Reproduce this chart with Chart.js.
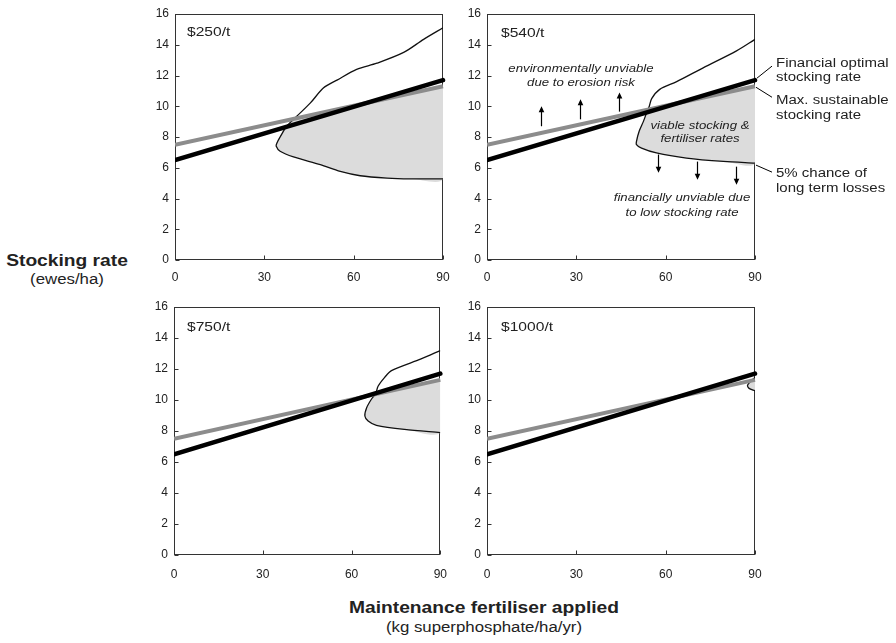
<!DOCTYPE html>
<html>
<head>
<meta charset="utf-8">
<script src="https://cdn.jsdelivr.net/npm/chart.js@4.4.1/dist/chart.umd.min.js"></script>
<style>
  body { margin: 0; background: #fff; }
  #page { position: relative; width: 896px; height: 643px; overflow: hidden; background: #fff;
          font-family: "Liberation Sans", Arial, sans-serif; color: #222; }
  canvas { position: absolute; }
  .txt { position: absolute; white-space: nowrap; line-height: 1; }
</style>
</head>
<body>
<div id="page">
  <canvas id="p250" width="320" height="290" style="left:140px; top:0px"></canvas>
  <canvas id="p540" width="444" height="290" style="left:452px; top:0px"></canvas>
  <canvas id="p750" width="320" height="292" style="left:139px; top:293px"></canvas>
  <canvas id="p1000" width="444" height="292" style="left:452px; top:293px"></canvas>
</div>
<script>
// Axis ticks
const xTickValues = [0, 30, 60, 90];
const yTickValues = [0, 2, 4, 6, 8, 10, 12, 14, 16];

// Straight lines (same in every panel): fertiliser 0 -> 90
const fertiliserRange = [0, 90];
const financialOptimal = [6.5, 11.7];
const maxSustainable = [7.5, 11.3];

// 5% chance of long term losses contours
const contour250X = [90, 83.5, 76.8, 67.8, 61, 54.4, 49.9, 45.4, 40.9, 37.5, 35.3, 34.2, 34, 35.3, 39.8, 48.8, 55.5, 62.2, 71.2, 79, 90];
const contour250Y = [15.1, 14.35, 13.5, 12.8, 12.4, 11.7, 11.2, 10.2, 9.35, 8.7, 8.0, 7.6, 7.4, 7.07, 6.7, 6.2, 5.76, 5.48, 5.33, 5.28, 5.28];

const contour540X = [90, 83.8, 72.6, 63.7, 58, 55.3, 54.5, 53.6, 52.5, 51.1, 50.2, 50.2, 51.9, 56.9, 67, 79.4, 90];
const contour540Y = [14.35, 13.6, 12.5, 11.6, 11.1, 10.5, 10.0, 9.57, 9.0, 8.37, 7.72, 7.5, 7.28, 6.96, 6.63, 6.41, 6.3];

const contour750X = [90, 83.5, 73.5, 71.2, 69, 68.1, 66.7, 65.1, 64.5, 65.6, 68.4, 77.9, 90];
const contour750Y = [13.19, 12.65, 11.9, 11.46, 10.9, 10.4, 10.05, 9.5, 8.97, 8.65, 8.37, 8.1, 7.9];

const contour1000X = [90, 88.5, 87.5, 88, 90];
const contour1000Y = [11.45, 11.2, 10.95, 10.75, 10.6];

Chart.defaults.font.family = "'Liberation Sans', Arial, sans-serif";
Chart.defaults.font.size = 12;
Chart.defaults.color = "#222";

// Function to turn two end values into line points
function linePoints(values) {
  return fertiliserRange.map((x, i) => ({ x: x, y: values[i] }));
}

function maxSustainableAt(x) {
  const t = (x - fertiliserRange[0]) / (fertiliserRange[1] - fertiliserRange[0]);
  return maxSustainable[0] + (maxSustainable[1] - maxSustainable[0]) * t;
}

// Function to build the shaded region: contour part below the max sustainable line
function shadePoints(cx, cy) {
  const pts = [];
  let prevBelow = false;
  for (let i = 0; i < cx.length; i++) {
    const below = cy[i] < maxSustainableAt(cx[i]);
    if (below && i > 0 && !prevBelow) {
      const dp = cy[i - 1] - maxSustainableAt(cx[i - 1]);
      const dq = cy[i] - maxSustainableAt(cx[i]);
      const t = dp / (dp - dq);
      pts.push({ x: cx[i - 1] + t * (cx[i] - cx[i - 1]), y: cy[i - 1] + t * (cy[i] - cy[i - 1]) });
    }
    if (below) pts.push({ x: cx[i], y: cy[i] });
    prevBelow = below;
  }
  pts.push({ x: fertiliserRange[1], y: maxSustainableAt(fertiliserRange[1]) });
  return pts;
}

// Plugin for the box round the plot and the small inward ticks
const framePlugin = {
  id: "frame",
  beforeDatasetsDraw(chart) {
    const { ctx, chartArea: a, scales } = chart;
    ctx.save();
    ctx.strokeStyle = "#333";
    ctx.lineWidth = 1;
    const l = Math.round(a.left) + 0.5, r = Math.round(a.right) - 0.5;
    const t = Math.round(a.top) + 0.5, b = Math.round(a.bottom) - 0.5;
    ctx.strokeRect(l, t, r - l, b - t);
    ctx.beginPath();
    yTickValues.forEach((v) => {
      const py = Math.round(scales.y.getPixelForValue(v)) + 0.5;
      ctx.moveTo(l, py);
      ctx.lineTo(l + 4, py);
    });
    xTickValues.forEach((v) => {
      const px = Math.round(scales.x.getPixelForValue(v)) + 0.5;
      ctx.moveTo(px, b);
      ctx.lineTo(px, b - 4);
    });
    ctx.stroke();
    ctx.restore();
  },
};

function arrow(ctx, x0, y0, x1, y1) {
  const ang = Math.atan2(y1 - y0, x1 - x0);
  ctx.beginPath();
  ctx.moveTo(x0, y0);
  ctx.lineTo(x1 - 4 * Math.cos(ang), y1 - 4 * Math.sin(ang));
  ctx.stroke();
  ctx.beginPath();
  ctx.moveTo(x1, y1);
  ctx.lineTo(x1 - 6 * Math.cos(ang) + 2.8 * Math.sin(ang), y1 - 6 * Math.sin(ang) - 2.8 * Math.cos(ang));
  ctx.lineTo(x1 - 6 * Math.cos(ang) - 2.8 * Math.sin(ang), y1 - 6 * Math.sin(ang) + 2.8 * Math.cos(ang));
  ctx.closePath();
  ctx.fill();
}

// Arrows and leader lines for the $540/t panel
const upArrows = [[18, 8.7, 10.0], [31.2, 9.15, 10.45], [44.3, 9.65, 10.9]];
const downArrows = [[57.3, 6.86, 5.68], [70.4, 6.4, 5.22], [83.5, 6.07, 4.9]];
const notesPlugin = {
  id: "notes",
  afterDatasetsDraw(chart) {
    const { ctx, scales: { x, y } } = chart;
    ctx.save();
    ctx.strokeStyle = "#000";
    ctx.fillStyle = "#000";
    ctx.lineWidth = 1.2;
    upArrows.concat(downArrows).forEach(([v, y0, y1]) => {
      const px = Math.round(x.getPixelForValue(v)) + 0.5;
      arrow(ctx, px, y.getPixelForValue(y0), px, y.getPixelForValue(y1));
    });
    // leader lines to the labels on the right
    const xe = x.getPixelForValue(fertiliserRange[1]);
    const leaders = [
      [financialOptimal[1], 2, -2, 17, -14],
      [maxSustainable[1], 1, 1, 17, 11],
      [contour540Y[contour540Y.length - 1], 1, 2, 17, 9],
    ];
    ctx.lineWidth = 1;
    leaders.forEach(([v, dx0, dy0, dx1, dy1]) => {
      const py = y.getPixelForValue(v);
      ctx.beginPath();
      ctx.moveTo(xe + dx0, py + dy0);
      ctx.lineTo(xe + dx1, py + dy1);
      ctx.stroke();
    });
    ctx.restore();
  },
};

// Function to draw one panel
function drawPanel(id, cx, cy, rightPad, tickPad, extraPlugins) {
  const contour = cx.map((x, i) => ({ x: x, y: cy[i] }));
  const common = { showLine: true, pointRadius: 0, pointHoverRadius: 0 };
  return new Chart(document.getElementById(id), {
    type: "scatter",
    data: {
      datasets: [
        { ...common, data: linePoints(financialOptimal), borderColor: "#000", borderWidth: 4.5, borderCapStyle: "round", clip: { left: 0, top: 0, right: 3, bottom: 0 } },
        { ...common, data: linePoints(maxSustainable), borderColor: "#8c8c8c", borderWidth: 4, clip: { left: 0, top: 0, right: 2, bottom: 0 } },
        { ...common, data: contour, borderColor: "#111", borderWidth: 1.3, tension: 0.3 },
        { ...common, data: shadePoints(cx, cy), borderColor: "rgba(0,0,0,0)", borderWidth: 0, backgroundColor: "#dcdcdc", fill: "shape", tension: 0.3 },
      ],
    },
    options: {
      responsive: false,
      animation: false,
      events: [],
      layout: { padding: { top: 14, right: rightPad, left: 0, bottom: 0 } },
      plugins: { legend: { display: false }, tooltip: { enabled: false } },
      scales: {
        x: {
          type: "linear", min: 0, max: 90,
          grid: { display: false, drawTicks: false },
          border: { display: false },
          ticks: { padding: tickPad, maxRotation: 0, autoSkip: false },
          afterBuildTicks: (s) => { s.ticks = xTickValues.map((v) => ({ value: v })); },
          afterFit: (s) => { s.height = 30; },
        },
        y: {
          type: "linear", min: 0, max: 16,
          grid: { display: false, drawTicks: false },
          border: { display: false },
          ticks: { padding: 6, autoSkip: false },
          afterBuildTicks: (s) => { s.ticks = yTickValues.map((v) => ({ value: v })); },
          afterFit: (s) => { s.width = 35; },
        },
      },
    },
    plugins: [framePlugin].concat(extraPlugins || []),
  });
}

drawPanel("p250", contour250X, contour250Y, 17, 10);
drawPanel("p540", contour540X, contour540Y, 141, 10, [notesPlugin]);
drawPanel("p750", contour750X, contour750Y, 17, 12);
drawPanel("p1000", contour1000X, contour1000Y, 141, 12);

// Function to put a piece of real text on the page
function addText(text, x, y, style, align) {
  const el = document.createElement("div");
  el.className = "txt";
  el.textContent = text;
  el.style.left = x + "px";
  el.style.top = y + "px";
  el.style.font = style;
  if (align === "left") {
    el.style.transformOrigin = "0 50%";
    el.style.transform = "translateY(-50%) scaleX(1.2)";
  } else {
    el.style.transform = "translate(-50%, -50%) scaleX(1.2)";
  }
  document.getElementById("page").appendChild(el);
}

const priceFont = "13px 'Liberation Sans', Arial, sans-serif";
addText("$250/t", 187, 31, priceFont, "left");
addText("$540/t", 501, 32, priceFont, "left");
addText("$750/t", 187, 326, priceFont, "left");
addText("$1000/t", 501, 326, priceFont, "left");

const noteFont = "italic 11px 'Liberation Sans', Arial, sans-serif";
addText("environmentally unviable", 581, 68, noteFont);
addText("due to erosion risk", 581, 82, noteFont);
addText("viable stocking &", 700, 125, noteFont);
addText("fertiliser rates", 700, 138, noteFont);
addText("financially unviable due", 682, 197, noteFont);
addText("to low stocking rate", 682, 212, noteFont);

const sideFont = "12.5px 'Liberation Sans', Arial, sans-serif";
addText("Financial optimal", 776, 63, sideFont, "left");
addText("stocking rate", 776, 77, sideFont, "left");
addText("Max. sustainable", 776, 100, sideFont, "left");
addText("stocking rate", 776, 115, sideFont, "left");
addText("5% chance of", 776, 173, sideFont, "left");
addText("long term losses", 776, 188, sideFont, "left");

addText("Stocking rate", 67, 261, "bold 16px 'Liberation Sans', Arial, sans-serif");
addText("(ewes/ha)", 67, 279, "14px 'Liberation Sans', Arial, sans-serif");
addText("Maintenance fertiliser applied", 484, 608, "bold 16px 'Liberation Sans', Arial, sans-serif");
addText("(kg superphosphate/ha/yr)", 484, 627, "14px 'Liberation Sans', Arial, sans-serif");
</script>
</body>
</html>
